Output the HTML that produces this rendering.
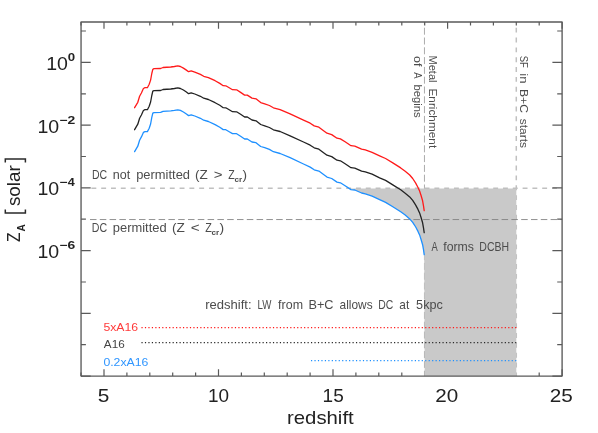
<!DOCTYPE html><html><head><meta charset="utf-8"><title>plot</title>
<style>html,body{margin:0;padding:0;background:#fff}svg{display:block;will-change:transform}text{font-family:"Liberation Sans",sans-serif}</style></head><body>
<svg width="598" height="433" viewBox="0 0 598 433">
<rect width="598" height="433" fill="#fff"/>
<line x1="424.46" y1="21.95" x2="424.46" y2="376.10" stroke="#9c9c9c" stroke-width="0.85" stroke-dasharray="7 2.8" stroke-dashoffset="4.05"/>
<line x1="516.29" y1="21.95" x2="516.29" y2="376.10" stroke="#c0c0c0" stroke-width="1.5" stroke-dasharray="4.9 4.95" stroke-dashoffset="4.10"/>
<polygon points="349.4,188.6 351.0,189.6 354.8,190.0 361.6,193.0 365.3,193.8 372.1,196.2 379.6,199.7 385.6,202.4 393.2,207.0 400.7,211.8 405.2,215.1 409.7,218.9 412.7,222.4 415.7,227.0 418.0,231.4 419.6,234.9 421.0,239.2 422.6,244.7 423.5,249.7 424.2,254.6 424.7,376.1 516.3,376.1 516.3,188.6" fill="#c9c9c9"/>
<line x1="91.4" y1="188.18" x2="562.1" y2="188.18" stroke="#c0c0c0" stroke-width="1.5" stroke-dasharray="4.9 4.9"/>
<line x1="90.0" y1="219.55" x2="562.1" y2="219.55" stroke="#7c7c7c" stroke-width="0.85" stroke-dasharray="6.5 3.3"/>
<line x1="141.45" y1="327.5" x2="516.6" y2="327.5" stroke="#ff1a1a" stroke-width="1.25" stroke-dasharray="1.2 2.26"/>
<line x1="141.45" y1="342.5" x2="516.6" y2="342.5" stroke="#2a2a2a" stroke-width="1.25" stroke-dasharray="1.2 2.26"/>
<line x1="310.99" y1="360.5" x2="516.6" y2="360.5" stroke="#1e90ff" stroke-width="1.25" stroke-dasharray="1.2 2.26"/>
<path d="M134.6 107.7 L137.8 102.3 L139.6 96.3 L141.4 93.0 L143.4 88.5 L145.0 87.7 L147.4 87.7 L149.2 84.3 L150.6 80.1 L151.8 73.5 L152.8 69.3 L154.0 68.7 L160.6 68.5 L163.0 67.5 L170.8 67.0 L174.4 66.5 L177.8 65.9 L180.4 66.5 L183.4 68.1 L186.4 70.1 L188.6 71.7 L191.2 70.9 L194.8 72.1 L200.4 74.4 L203.7 76.3 L208.4 77.6 L215.1 80.7 L219.8 83.4 L223.2 85.7 L225.8 85.8 L229.2 87.8 L232.5 89.7 L236.6 89.8 L240.6 92.4 L244.6 95.1 L247.3 95.1 L252.0 98.1 L256.0 98.8 L260.7 102.6 L264.7 103.8 L269.4 105.5 L273.4 107.8 L280.1 109.6 L290.1 113.8 L303.5 120.1 L310.2 123.2 L314.2 125.9 L318.9 127.2 L322.9 130.2 L327.0 133.2 L331.7 134.6 L337.0 138.2 L340.4 138.9 L345.1 141.8 L351.0 145.7 L354.8 146.1 L361.6 149.1 L365.3 149.9 L372.1 152.3 L379.6 155.8 L385.6 158.5 L393.2 163.1 L400.7 167.9 L405.2 171.2 L409.7 175.0 L412.7 178.5 L415.7 183.1 L418.0 187.5 L419.6 191.0 L421.0 195.3 L422.6 200.8 L423.5 205.8 L424.2 210.7" fill="none" stroke="#ff1a1a" stroke-width="1.3" stroke-linejoin="round" stroke-linecap="round"/>
<path d="M134.6 129.7 L137.8 124.2 L139.6 118.2 L141.4 115.0 L143.4 110.5 L145.0 109.7 L147.4 109.7 L149.2 106.2 L150.6 102.0 L151.8 95.5 L152.8 91.2 L154.0 90.7 L160.6 90.5 L163.0 89.5 L170.8 89.0 L174.4 88.5 L177.8 87.8 L180.4 88.5 L183.4 90.0 L186.4 92.0 L188.6 93.7 L191.2 92.8 L194.8 94.0 L200.4 96.3 L203.7 98.2 L208.4 99.5 L215.1 102.7 L219.8 105.3 L223.2 107.7 L225.8 107.8 L229.2 109.8 L232.5 111.7 L236.6 111.8 L240.6 114.3 L244.6 117.0 L247.3 117.0 L252.0 120.0 L256.0 120.8 L260.7 124.5 L264.7 125.8 L269.4 127.5 L273.4 129.8 L280.1 131.5 L290.1 135.8 L303.5 142.0 L310.2 145.2 L314.2 147.8 L318.9 149.2 L322.9 152.2 L327.0 155.2 L331.7 156.6 L337.0 160.2 L340.4 160.8 L345.1 163.8 L351.0 167.7 L354.8 168.1 L361.6 171.1 L365.3 171.8 L372.1 174.2 L379.6 177.8 L385.6 180.4 L393.2 185.1 L400.7 189.8 L405.2 193.2 L409.7 196.9 L412.7 200.4 L415.7 205.1 L418.0 209.4 L419.6 212.9 L421.0 217.2 L422.6 222.8 L423.5 227.8 L424.2 232.7" fill="none" stroke="#222" stroke-width="1.3" stroke-linejoin="round" stroke-linecap="round"/>
<path d="M134.6 151.6 L137.8 146.2 L139.6 140.2 L141.4 136.9 L143.4 132.4 L145.0 131.6 L147.4 131.6 L149.2 128.2 L150.6 124.0 L151.8 117.4 L152.8 113.2 L154.0 112.6 L160.6 112.4 L163.0 111.4 L170.8 110.9 L174.4 110.4 L177.8 109.8 L180.4 110.4 L183.4 112.0 L186.4 114.0 L188.6 115.6 L191.2 114.8 L194.8 116.0 L200.4 118.3 L203.7 120.2 L208.4 121.5 L215.1 124.6 L219.8 127.3 L223.2 129.6 L225.8 129.7 L229.2 131.7 L232.5 133.6 L236.6 133.7 L240.6 136.3 L244.6 139.0 L247.3 139.0 L252.0 142.0 L256.0 142.7 L260.7 146.5 L264.7 147.7 L269.4 149.4 L273.4 151.7 L280.1 153.5 L290.1 157.7 L303.5 164.0 L310.2 167.1 L314.2 169.8 L318.9 171.1 L322.9 174.1 L327.0 177.1 L331.7 178.5 L337.0 182.1 L340.4 182.8 L345.1 185.7 L351.0 189.6 L354.8 190.0 L361.6 193.0 L365.3 193.8 L372.1 196.2 L379.6 199.7 L385.6 202.4 L393.2 207.0 L400.7 211.8 L405.2 215.1 L409.7 218.9 L412.7 222.4 L415.7 227.0 L418.0 231.4 L419.6 234.9 L421.0 239.2 L422.6 244.7 L423.5 249.7 L424.2 254.6" fill="none" stroke="#1e90ff" stroke-width="1.3" stroke-linejoin="round" stroke-linecap="round"/>
<rect x="81.05" y="21.95" width="481.05" height="354.15" fill="none" stroke="#5a5a5a" stroke-width="1.35" stroke-linejoin="round"/>
<path d="M81.0 21.9v3.5M81.0 376.1v-3.5M104.0 21.9v6.8M104.0 376.1v-6.8M126.9 21.9v3.5M126.9 376.1v-3.5M149.8 21.9v3.5M149.8 376.1v-3.5M172.7 21.9v3.5M172.7 376.1v-3.5M195.6 21.9v3.5M195.6 376.1v-3.5M218.5 21.9v6.8M218.5 376.1v-6.8M241.4 21.9v3.5M241.4 376.1v-3.5M264.3 21.9v3.5M264.3 376.1v-3.5M287.2 21.9v3.5M287.2 376.1v-3.5M310.1 21.9v3.5M310.1 376.1v-3.5M333.0 21.9v6.8M333.0 376.1v-6.8M355.9 21.9v3.5M355.9 376.1v-3.5M378.8 21.9v3.5M378.8 376.1v-3.5M401.8 21.9v3.5M401.8 376.1v-3.5M424.7 21.9v3.5M447.6 21.9v6.8M470.5 21.9v3.5M493.4 21.9v3.5M516.3 21.9v3.5M539.2 21.9v3.5M539.2 376.1v-3.5M562.1 21.9v6.8M562.1 376.1v-6.8M81.0 376.1h9.7M562.1 376.1h-9.7M81.0 344.7h4.9M562.1 344.7h-4.9M81.0 313.4h9.7M562.1 313.4h-9.7M81.0 282.0h4.9M562.1 282.0h-4.9M81.0 250.6h9.7M562.1 250.6h-9.7M81.0 219.2h4.9M562.1 219.2h-4.9M81.0 187.9h9.7M562.1 187.9h-9.7M81.0 156.5h4.9M562.1 156.5h-4.9M81.0 125.1h9.7M562.1 125.1h-9.7M81.0 93.8h4.9M562.1 93.8h-4.9M81.0 62.4h9.7M562.1 62.4h-9.7M81.0 31.0h4.9M562.1 31.0h-4.9" stroke="#5a5a5a" stroke-width="1.2" fill="none"/>
<text transform="translate(97.77,402.40) scale(1.097,1)" font-size="19.00" fill="#222">5</text>
<text transform="translate(208.07,402.40) scale(0.997,1)" font-size="19.00" fill="#222">10</text>
<text transform="translate(322.60,402.40) scale(1.000,1)" font-size="19.00" fill="#222">15</text>
<text transform="translate(435.23,402.40) scale(1.086,1)" font-size="19.00" fill="#222">20</text>
<text transform="translate(549.77,402.40) scale(1.089,1)" font-size="19.00" fill="#222">25</text>
<text transform="translate(46.13,69.90) scale(1.029,1)" font-size="19.00" fill="#222">10</text>
<text transform="translate(67.67,60.90) scale(1.228,1)" font-size="10.80" fill="#222" font-weight="bold">0</text>
<text transform="translate(37.43,132.64) scale(1.029,1)" font-size="19.00" fill="#222">10</text>
<text transform="translate(59.61,123.64) scale(1.278,1)" font-size="10.80" fill="#222" font-weight="bold">−</text>
<text transform="translate(67.51,123.64) scale(1.286,1)" font-size="10.80" fill="#222" font-weight="bold">2</text>
<text transform="translate(37.43,195.38) scale(1.029,1)" font-size="19.00" fill="#222">10</text>
<text transform="translate(59.61,186.38) scale(1.278,1)" font-size="10.80" fill="#222" font-weight="bold">−</text>
<text transform="translate(67.81,186.38) scale(1.160,1)" font-size="10.80" fill="#222" font-weight="bold">4</text>
<text transform="translate(37.43,258.12) scale(1.029,1)" font-size="19.00" fill="#222">10</text>
<text transform="translate(59.61,249.12) scale(1.278,1)" font-size="10.80" fill="#222" font-weight="bold">−</text>
<text transform="translate(67.48,249.12) scale(1.286,1)" font-size="10.80" fill="#222" font-weight="bold">6</text>
<text transform="translate(286.98,424.10) scale(1.163,1)" font-size="17.50" fill="#222">redshift</text>
<text transform="translate(20.40,242.01) rotate(-90) scale(0.878,1)" font-size="17.90" fill="#222">Z</text>
<text transform="translate(24.80,231.45) rotate(-90) scale(0.957,1)" font-size="10.60" fill="#222" font-weight="bold">A</text>
<text transform="translate(20.40,206.12) rotate(-90) scale(1.075,1)" font-size="17.60" fill="#222">solar</text>
<path d="M5.3 209.6V212.9H25.4V209.6M5.3 162.4V159.1H25.4V162.4" fill="none" stroke="#2a2a2a" stroke-width="1.5"/>
<text transform="translate(91.93,179.20) scale(0.881,1)" font-size="12.00" fill="#4c4c4c">DC</text>
<text transform="translate(112.75,179.20) scale(1.046,1)" font-size="12.00" fill="#4c4c4c">not</text>
<text transform="translate(136.16,179.20) scale(1.077,1)" font-size="12.00" fill="#4c4c4c">permitted</text>
<text transform="translate(194.95,179.20) scale(1.127,1)" font-size="12.00" fill="#4c4c4c">(Z</text>
<text transform="translate(213.75,179.20) scale(1.254,1)" font-size="12.00" fill="#4c4c4c">&gt;</text>
<text transform="translate(228.16,179.20) scale(0.883,1)" font-size="12.00" fill="#4c4c4c">Z</text>
<text transform="translate(242.50,179.20) scale(1.132,1)" font-size="12.00" fill="#4c4c4c">)</text>
<text transform="translate(234.48,181.70) scale(1.064,1)" font-size="7.60" fill="#4c4c4c" font-weight="bold">cr</text>
<text transform="translate(91.72,232.10) scale(0.887,1)" font-size="12.00" fill="#4c4c4c">DC</text>
<text transform="translate(112.76,232.10) scale(1.077,1)" font-size="12.00" fill="#4c4c4c">permitted</text>
<text transform="translate(171.95,232.10) scale(1.137,1)" font-size="12.00" fill="#4c4c4c">(Z</text>
<text transform="translate(190.74,232.10) scale(1.271,1)" font-size="12.00" fill="#4c4c4c">&lt;</text>
<text transform="translate(205.15,232.10) scale(0.898,1)" font-size="12.00" fill="#4c4c4c">Z</text>
<text transform="translate(219.50,232.10) scale(1.164,1)" font-size="12.00" fill="#4c4c4c">)</text>
<text transform="translate(211.58,234.60) scale(1.064,1)" font-size="7.60" fill="#4c4c4c" font-weight="bold">cr</text>
<text transform="translate(431.38,251.10) scale(0.780,1)" font-size="12.00" fill="#4c4c4c">A</text>
<text transform="translate(443.22,251.10) scale(1.024,1)" font-size="12.00" fill="#4c4c4c">forms</text>
<text transform="translate(479.33,251.10) scale(0.877,1)" font-size="12.00" fill="#4c4c4c">DCBH</text>
<text transform="translate(205.25,308.80) scale(1.085,1)" font-size="12.00" fill="#4c4c4c">redshift:</text>
<text transform="translate(257.50,308.80) scale(0.808,1)" font-size="12.00" fill="#4c4c4c">LW</text>
<text transform="translate(278.11,308.80) scale(1.037,1)" font-size="12.00" fill="#4c4c4c">from</text>
<text transform="translate(308.45,308.80) scale(1.062,1)" font-size="12.00" fill="#4c4c4c">B+C</text>
<text transform="translate(339.60,308.80) scale(0.990,1)" font-size="12.00" fill="#4c4c4c">allows</text>
<text transform="translate(378.14,308.80) scale(0.868,1)" font-size="12.00" fill="#4c4c4c">DC</text>
<text transform="translate(399.29,308.80) scale(0.990,1)" font-size="12.00" fill="#4c4c4c">at</text>
<text transform="translate(416.09,308.80) scale(1.055,1)" font-size="12.00" fill="#4c4c4c">5kpc</text>
<text transform="translate(103.41,330.90) scale(1.074,1)" font-size="11.40" fill="#ff3a3a">5xA16</text>
<text transform="translate(103.87,347.70) scale(1.028,1)" font-size="11.40" fill="#444">A16</text>
<text transform="translate(103.41,365.50) scale(1.074,1)" font-size="11.40" fill="#3096ff">0.2xA16</text>
<text transform="translate(429.30,55.38) rotate(90) scale(0.975,1)" font-size="11.40" fill="#4c4c4c">Metal</text>
<text transform="translate(429.30,88.42) rotate(90) scale(1.038,1)" font-size="11.40" fill="#4c4c4c">Enrichment</text>
<text transform="translate(414.30,56.07) rotate(90) scale(1.096,1)" font-size="11.40" fill="#4c4c4c">of</text>
<text transform="translate(414.30,72.28) rotate(90) scale(0.834,1)" font-size="11.40" fill="#4c4c4c">A</text>
<text transform="translate(414.30,84.46) rotate(90) scale(0.992,1)" font-size="11.40" fill="#4c4c4c">begins</text>
<text transform="translate(519.50,55.77) rotate(90) scale(0.831,1)" font-size="11.40" fill="#4c4c4c">SF</text>
<text transform="translate(519.50,73.31) rotate(90) scale(1.152,1)" font-size="11.40" fill="#4c4c4c">in</text>
<text transform="translate(519.50,88.99) rotate(90) scale(1.070,1)" font-size="11.40" fill="#4c4c4c">B+C</text>
<text transform="translate(519.50,118.77) rotate(90) scale(1.046,1)" font-size="11.40" fill="#4c4c4c">starts</text>
</svg></body></html>
